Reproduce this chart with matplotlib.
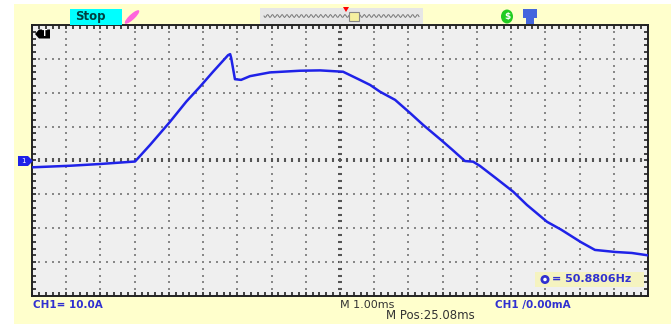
import matplotlib
matplotlib.use("Agg")
import matplotlib.pyplot as plt
import numpy as np
from matplotlib.patches import Rectangle, Polygon, Ellipse

# trace: time in ms (1.00ms/div, 0 = trigger), current in A (10.0A/div)
t_ms = [-8.97, -7.89, -7.01, -5.99, -5.55, -4.97, -4.49, -4.09, -3.71, -3.27,
        -3.21, -3.18, -3.07, -2.89, -2.63, -2.05, -1.17, -0.58, 0.09, 0.58,
        0.88, 1.17, 1.61, 2.05, 2.43, 2.96, 3.29, 3.65, 3.89, 4.09,
        4.56, 5.06, 5.46, 6.05, 6.46, 7.04, 7.45, 8.04, 8.53, 9.0]
current_a = [-2.0, -1.55, -1.03, -0.3, 4.6, 11.4, 17.4, 21.8, 26.2, 31.1,
             31.4, 30.3, 24.0, 23.8, 24.9, 26.0, 26.5, 26.6, 26.2, 23.8,
             22.3, 20.3, 17.9, 14.0, 10.5, 6.0, 3.1, -0.15, -0.35, -1.6,
             -5.25, -9.2, -13.1, -18.1, -20.4, -24.1, -26.4, -27.0, -27.3, -28.0]

W, H = 671, 324
fig = plt.figure(figsize=(W / 100, H / 100), dpi=100, facecolor="white")

def fx(x):
    return x / W

def fy(y):
    return 1 - y / H

def box(x0, y0, w, h, **kw):
    # rectangle given in pixel coords from the top-left corner
    kw.setdefault("edgecolor", "none")
    kw.setdefault("zorder", 1)
    fig.patches.append(Rectangle((fx(x0), fy(y0 + h)), w / W, h / H,
                                 transform=fig.transFigure, **kw))

def poly(pts, **kw):
    kw.setdefault("zorder", 6)
    fig.patches.append(Polygon([(fx(x), fy(y)) for x, y in pts], closed=True,
                               transform=fig.transFigure, **kw))

def blob(x, y, w, h, **kw):
    kw.setdefault("zorder", 2)
    fig.patches.append(Ellipse((fx(x), fy(y)), w / W, h / H, transform=fig.transFigure, **kw))

# yellow panel behind the screen
box(14, 4, W - 14, H - 4, facecolor="#ffffcc", zorder=-5)

ax = fig.add_axes([fx(32), fy(296), fx(648) - fx(32), (296 - 25) / H])
ax.set_facecolor("#efefef")
ax.set_xlim(-9, 9)
ax.set_ylim(-40, 40)

# dotted graticule
grid_x = np.arange(-8, 9)
grid_y = np.arange(-30, 31, 10)
fine_x = np.arange(-9, 9.01, 0.2)
fine_y = np.arange(-40, 40.1, 2)
for gx in grid_x:
    if gx == 0:
        ax.scatter(np.full(len(fine_y), gx), fine_y, marker="_", s=12, lw=1.5, c="#555555", zorder=1)
    else:
        ax.scatter(np.full(len(fine_y), gx), fine_y, marker="s", s=1.5, lw=0, c="#888888", zorder=1)
for gy in grid_y:
    if gy == 0:
        ax.scatter(fine_x, np.full(len(fine_x), gy), marker="|", s=12, lw=1.5, c="#555555", zorder=1)
    else:
        ax.scatter(fine_x, np.full(len(fine_x), gy), marker="s", s=1.5, lw=0, c="#888888", zorder=1)

# trace
ax.plot(t_ms, current_a, color="#1f22e8", lw=1.8, zorder=3, solid_joinstyle="round")

# frame with small ticks all round
for s in ax.spines.values():
    s.set_linewidth(1.4)
    s.set_color("#222222")
ax.set_xticks(fine_x)
ax.set_yticks(fine_y)
ax.tick_params(direction="in", length=3, width=1.2, color="#222222",
               top=True, right=True, labelbottom=False, labelleft=False)

# trigger marker "T" top-left
poly([(35, 34), (39, 29.5), (50, 29.5), (50, 38.5), (39, 38.5)], facecolor="black")
fig.text(fx(44.5), fy(34), "T", color="white", fontsize=5.5, fontweight="bold",
         ha="center", va="center", zorder=7)

# channel ground marker
poly([(18, 156), (28, 156), (33, 161), (28, 166), (18, 166)], facecolor="#1f22e8")
fig.text(fx(23.5), fy(161), "1", color="white", fontsize=5, ha="center", va="center", zorder=7)

# top status bar
box(70, 9, 52, 16, facecolor="#00ffff")
fig.text(fx(75), fy(16.5), "Stop", color="#004040", fontsize=8.5, fontweight="bold",
         va="center", ha="left", zorder=5)
fig.patches.append(Ellipse((fx(132), fy(17)), 7 / W, 15 / H, angle=-25,
                           transform=fig.transFigure, facecolor="#ff66dd", zorder=2))
box(260, 8, 163, 16, facecolor="#e6e6e6")
wx = np.linspace(264, 419, 160)
wy = 16 + 1.5 * np.sin((wx - 264) * 1.3)
fig.add_artist(plt.Line2D(fx(wx), fy(wy), transform=fig.transFigure, color="#777777",
                          lw=0.7, zorder=2))
box(349, 12, 10, 9, facecolor="#f5f0a0", edgecolor="#888888", lw=0.8, zorder=3)
poly([(343, 7), (349, 7), (346, 12)], facecolor="red")
blob(507, 16.5, 12, 14, facecolor="#22cc22")
fig.text(fx(507), fy(16.5), "$", color="white", fontsize=6.5, fontweight="bold",
         ha="center", va="center", zorder=5)
box(523, 9, 14, 9, facecolor="#4466dd")
box(526, 18, 8, 6, facecolor="#4466dd")

# frequency readout
blue = "#3030d0"
box(535, 272, 109, 15, facecolor="#f5f3c0", zorder=5)
blob(545, 279.5, 9, 9, facecolor=blue, zorder=7)
blob(545, 279.5, 3.5, 3.5, facecolor="white", zorder=8)
fig.text(fx(552), fy(279.5), "= 50.8806Hz", color=blue, fontsize=8, fontweight="bold",
         va="center", ha="left", zorder=7)

# bottom readouts
fig.text(fx(33), fy(305), "CH1= 10.0A", color=blue, fontsize=7.5, fontweight="bold", va="center")
fig.text(fx(340), fy(305), "M 1.00ms", color="#333333", fontsize=8, va="center")
fig.text(fx(386), fy(315.5), "M Pos:25.08ms", color="#333333", fontsize=8.5, va="center")
fig.text(fx(495), fy(305), "CH1 /0.00mA", color=blue, fontsize=7.5, fontweight="bold", va="center")

fig.savefig("out.png", dpi=100, facecolor=fig.get_facecolor())
